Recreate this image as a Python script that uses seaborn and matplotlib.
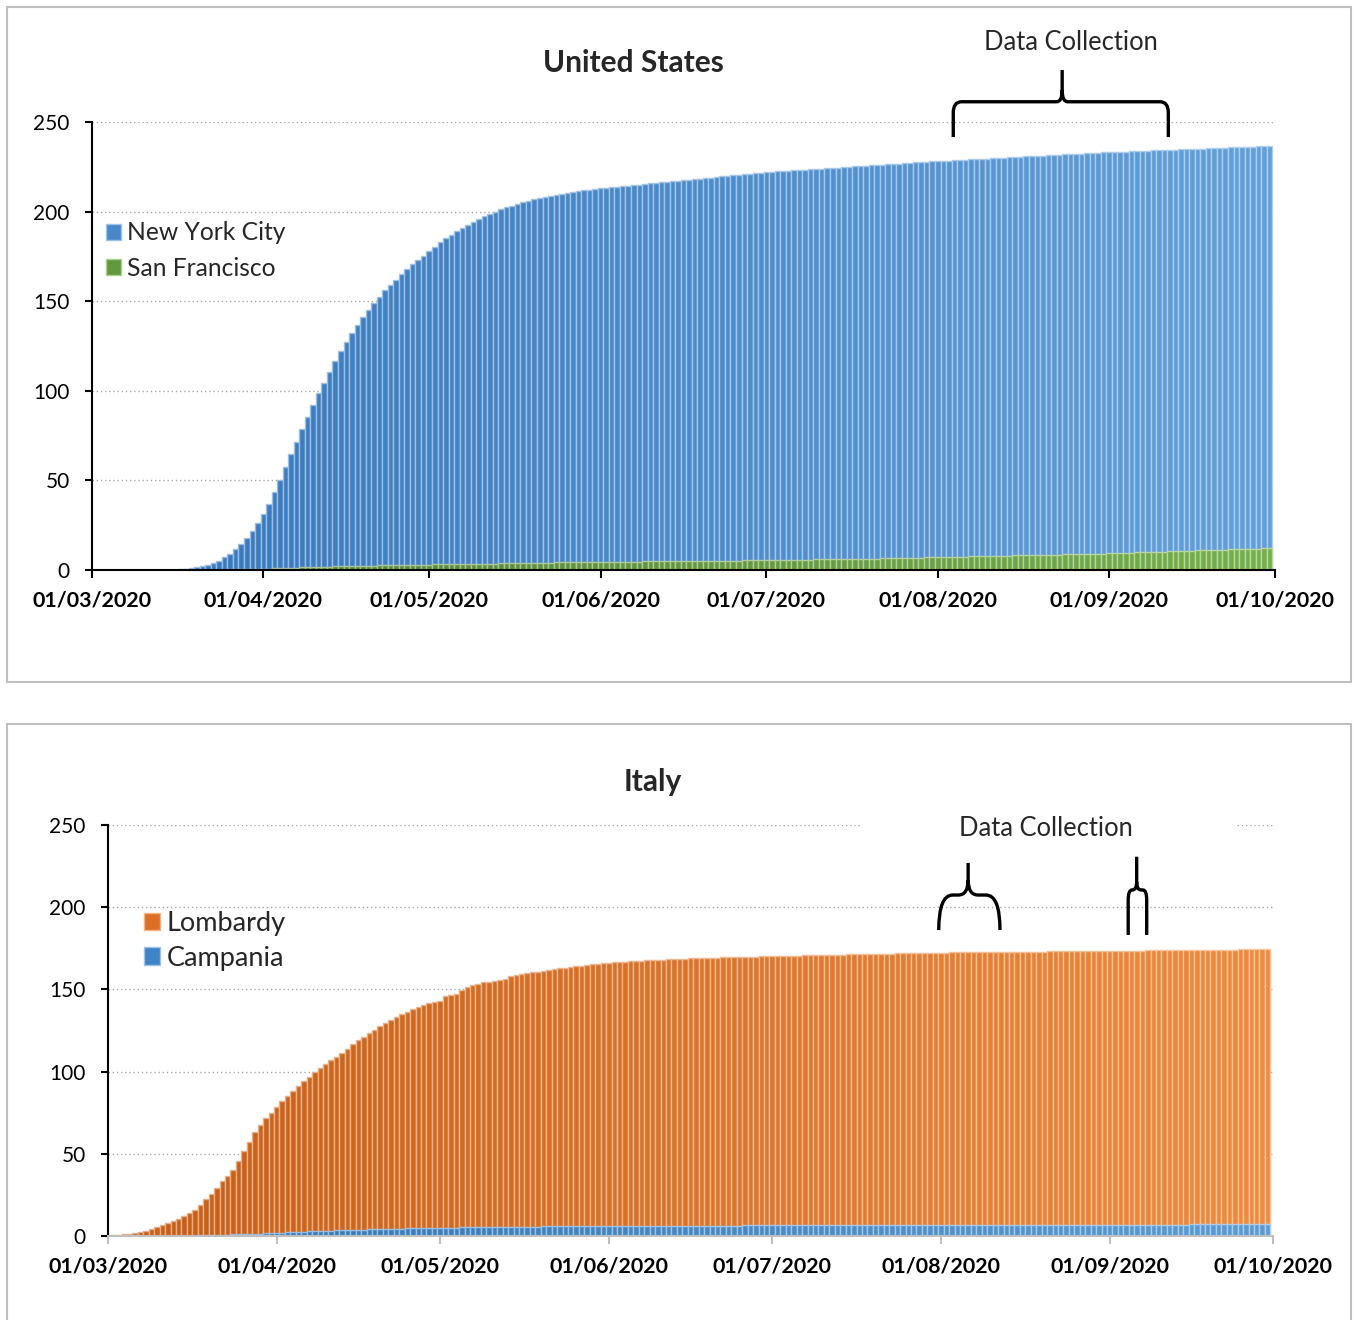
import matplotlib
matplotlib.use("Agg")
import matplotlib.pyplot as plt
import matplotlib.dates as mdates
from matplotlib.patches import Patch, Rectangle, PathPatch
from matplotlib.path import Path
from matplotlib.colors import to_rgb
import numpy as np
import pandas as pd
import seaborn as sns

# daily values, 01/03/2020 .. 30/09/2020, one list per month
dates = pd.date_range("2020-03-01", "2020-09-30", freq="D")

nyc = (
    [0] * 15 + [0.1, 0.3, 0.6, 1.0, 1.5, 2.2, 3.0, 4.0, 5.3, 7.0, 9.0, 11.5, 14.5, 18.0, 22.0, 26.5]
    + [31.5, 37, 43.5, 50.5, 57.5, 64.5, 71.5, 78.5, 85.5, 92, 98.5, 104.5, 110.5, 116.5, 122,
       127, 132, 136.5, 141, 145, 149, 152.5, 156, 159, 162, 165, 168, 170.5, 173, 175.5]
    + [178, 180.5, 183, 185, 187, 189, 191, 192.8, 194.4, 196, 197.4, 198.7, 200, 201.2, 202.3,
       203.3, 204.3, 205.2, 206, 206.8, 207.5, 208.2, 208.8, 209.4, 210, 210.5, 211, 211.5, 211.9,
       212.3, 212.7]
    + [213.0, 213.3, 213.6, 213.9, 214.2, 214.5, 214.8, 215.1, 215.4, 215.7, 216.0, 216.3, 216.6,
       216.9, 217.2, 217.5, 217.8, 218.1, 218.4, 218.7, 219.0, 219.3, 219.6, 219.9, 220.2, 220.5,
       220.8, 221.1, 221.4, 221.7]
    + [222.0, 222.2, 222.4, 222.6, 222.8, 223.0, 223.2, 223.4, 223.6, 223.8, 224.0, 224.2, 224.4,
       224.6, 224.8, 225.0, 225.2, 225.4, 225.6, 225.8, 226.0, 226.2, 226.4, 226.6, 226.8, 227.0,
       227.2, 227.4, 227.6, 227.8, 228.0]
    + [228.1, 228.3, 228.4, 228.6, 228.8, 228.9, 229.1, 229.3, 229.4, 229.6, 229.8, 229.9, 230.1,
       230.3, 230.4, 230.6, 230.8, 230.9, 231.1, 231.3, 231.4, 231.6, 231.8, 231.9, 232.1, 232.3,
       232.4, 232.6, 232.8, 232.9, 233.0]
    + [233.1, 233.2, 233.4, 233.5, 233.6, 233.7, 233.8, 234.0, 234.1, 234.2, 234.3, 234.5, 234.6,
       234.7, 234.8, 234.9, 235.1, 235.2, 235.3, 235.4, 235.6, 235.7, 235.8, 235.9, 236.0, 236.1,
       236.3, 236.4, 236.5, 236.6]
)

sf = (
    [0] * 21 + [0.1, 0.1, 0.2, 0.2, 0.3, 0.3, 0.4, 0.4, 0.5, 0.6]
    + [0.7, 0.8, 0.9, 1.0, 1.1, 1.2, 1.3, 1.4, 1.5, 1.6, 1.7, 1.8, 1.9, 2.0, 2.1, 2.2, 2.3, 2.3,
       2.4, 2.5, 2.5, 2.6, 2.6, 2.7, 2.7, 2.8, 2.8, 2.9, 2.9, 3.0]
    + [3.0, 3.1, 3.1, 3.2, 3.2, 3.3, 3.3, 3.4, 3.4, 3.5, 3.5, 3.6, 3.6, 3.7, 3.7, 3.8, 3.8, 3.9,
       3.9, 4.0, 4.0, 4.1, 4.1, 4.2, 4.2, 4.2, 4.3, 4.3, 4.4, 4.4, 4.5]
    + [4.5, 4.5, 4.6, 4.6, 4.6, 4.7, 4.7, 4.7, 4.8, 4.8, 4.8, 4.9, 4.9, 4.9, 5.0, 5.0, 5.0, 5.1,
       5.1, 5.1, 5.2, 5.2, 5.2, 5.3, 5.3, 5.3, 5.4, 5.4, 5.4, 5.5]
    + [5.5, 5.5, 5.6, 5.6, 5.6, 5.7, 5.7, 5.8, 5.8, 5.9, 5.9, 6.0, 6.0, 6.1, 6.1, 6.2, 6.2, 6.3,
       6.3, 6.4, 6.4, 6.5, 6.5, 6.6, 6.6, 6.7, 6.8, 6.8, 6.9, 7.0, 7.1]
    + [7.2, 7.2, 7.3, 7.4, 7.4, 7.5, 7.6, 7.6, 7.7, 7.8, 7.8, 7.9, 8.0, 8.0, 8.1, 8.2, 8.2, 8.3,
       8.4, 8.4, 8.5, 8.6, 8.6, 8.7, 8.8, 8.8, 8.9, 9.0, 9.0, 9.1, 9.2]
    + [9.3, 9.4, 9.5, 9.6, 9.7, 9.8, 9.9, 10.0, 10.1, 10.2, 10.3, 10.4, 10.5, 10.6, 10.7, 10.8,
       10.9, 11.0, 11.1, 11.2, 11.3, 11.4, 11.5, 11.6, 11.7, 11.8, 11.8, 11.9, 12.0, 12.1]
)

lombardy = (
    [0.3, 0.5, 0.8, 1.0, 1.3, 1.6, 2.2, 3.0, 4.0, 5.2, 6.5, 8.0, 9.0, 10.2, 12.0, 14.0, 16.0,
     19.0, 22.5, 25.5, 29.5, 33.5, 36.5, 40.0, 45.5, 51.5, 57.0, 63.0, 67.5, 71.5, 75.0]
    + [78.5, 82, 85, 88, 91, 94, 97, 99.5, 102, 104.5, 107, 109, 111.5, 114, 116.5, 119, 121,
       123.5, 125.5, 127.5, 129.5, 131.5, 133.5, 135, 136.5, 138, 139.5, 140.5, 141.5, 142.5]
    + [143, 146, 146.5, 147.5, 149.5, 151.5, 152.5, 153.5, 154.2, 154.8, 155.4, 156, 156.5, 158,
       158.8, 159.3, 159.8, 160.3, 160.8, 161.3, 161.8, 162.3, 162.8, 163.2, 163.6, 164, 164.4,
       164.8, 165.2, 165.6, 166]
    + [166.2, 166.4, 166.6, 166.8, 167.0, 167.2, 167.4, 167.6, 167.8, 168.0, 168.1, 168.3, 168.4,
       168.6, 168.7, 168.9, 169.0, 169.1, 169.2, 169.3, 169.4, 169.5, 169.6, 169.7, 169.8, 169.9,
       170.0, 170.0, 170.1, 170.2]
    + [170.3, 170.3, 170.4, 170.5, 170.6, 170.6, 170.7, 170.8, 170.9, 170.9, 171.0, 171.1, 171.1,
       171.2, 171.3, 171.3, 171.4, 171.5, 171.5, 171.6, 171.7, 171.7, 171.8, 171.9, 171.9, 172.0,
       172.1, 172.1, 172.2, 172.3, 172.3]
    + [172.4, 172.4, 172.5, 172.5, 172.5, 172.6, 172.6, 172.6, 172.7, 172.7, 172.7, 172.8, 172.8,
       172.8, 172.9, 172.9, 172.9, 173.0, 173.0, 173.0, 173.1, 173.1, 173.1, 173.2, 173.2, 173.2,
       173.3, 173.3, 173.3, 173.4, 173.4]
    + [173.4, 173.5, 173.5, 173.5, 173.6, 173.6, 173.6, 173.7, 173.7, 173.7, 173.8, 173.8, 173.8,
       173.9, 173.9, 173.9, 174.0, 174.0, 174.0, 174.1, 174.1, 174.1, 174.2, 174.2, 174.3, 174.3,
       174.4, 174.4, 174.5, 174.6]
)

campania = (
    [0] * 10 + [0.1, 0.1, 0.1, 0.2, 0.2, 0.3, 0.3, 0.4, 0.5, 0.6, 0.7, 0.8, 0.9, 1.0, 1.1, 1.2,
                1.3, 1.4, 1.5, 1.6, 1.7]
    + [1.9, 2.0, 2.2, 2.3, 2.5, 2.6, 2.8, 2.9, 3.0, 3.2, 3.3, 3.4, 3.5, 3.6, 3.7, 3.8, 3.9, 4.0,
       4.1, 4.2, 4.3, 4.4, 4.5, 4.5, 4.6, 4.7, 4.7, 4.8, 4.9, 4.9]
    + [5.0, 5.0, 5.1, 5.1, 5.2, 5.2, 5.3, 5.3, 5.4, 5.4, 5.5, 5.5, 5.5, 5.6, 5.6, 5.6, 5.7, 5.7,
       5.7, 5.8, 5.8, 5.8, 5.9, 5.9, 5.9, 6.0, 6.0, 6.0, 6.0, 6.1, 6.1]
    + [6.1, 6.1, 6.1, 6.1, 6.1, 6.2, 6.2, 6.2, 6.2, 6.2, 6.2, 6.2, 6.2, 6.2, 6.2, 6.3, 6.3, 6.3,
       6.3, 6.3, 6.3, 6.3, 6.3, 6.3, 6.3, 6.4, 6.4, 6.4, 6.4, 6.4]
    + [6.4, 6.4, 6.4, 6.4, 6.4, 6.4, 6.4, 6.4, 6.4, 6.4, 6.5, 6.5, 6.5, 6.5, 6.5, 6.5, 6.5, 6.5,
       6.5, 6.5, 6.6, 6.6, 6.6, 6.6, 6.6, 6.6, 6.6, 6.6, 6.6, 6.6, 6.6]
    + [6.6, 6.6, 6.6, 6.6, 6.6, 6.7, 6.7, 6.7, 6.7, 6.7, 6.7, 6.7, 6.7, 6.7, 6.7, 6.7, 6.7, 6.7,
       6.8, 6.8, 6.8, 6.8, 6.8, 6.8, 6.8, 6.8, 6.8, 6.8, 6.8, 6.8, 6.8]
    + [6.8, 6.8, 6.8, 6.8, 6.8, 6.9, 6.9, 6.9, 6.9, 6.9, 6.9, 6.9, 6.9, 6.9, 6.9, 7.0, 7.0, 7.0,
       7.0, 7.0, 7.1, 7.1, 7.1, 7.1, 7.1, 7.2, 7.2, 7.2, 7.3, 7.3]
)

for s in (nyc, sf, lombardy, campania):
    assert len(s) == len(dates), len(s)

sns.set_theme(style="white")
plt.rcParams["font.family"] = ["Lato", "DejaVu Sans"]

xnum = mdates.date2num(dates)
xmin = mdates.date2num(pd.Timestamp("2020-03-01"))
xmax = mdates.date2num(pd.Timestamp("2020-10-01"))


def gradient_bars(ax, values, c_left, c_right):
    n0 = len(ax.patches)
    sns.barplot(x=xnum, y=values, native_scale=True, width=1.0, errorbar=None, ax=ax,
                color=c_left, linewidth=1.0)
    a, b = np.array(to_rgb(c_left)), np.array(to_rgb(c_right))
    for p in ax.patches[n0:]:
        t = (p.get_x() + p.get_width() / 2 - xmin) / (xmax - xmin)
        fc = a + (b - a) * np.clip(t, 0, 1)
        p.set_facecolor(fc)
        p.set_edgecolor(fc + (1 - fc) * 0.5)
        if p.get_height() <= 0:
            p.set_linewidth(0)


def brace(ax, x0, x1, xc, yb, ym, yt, rx1, ry1, rx2, ry2):
    x0, x1, xc = xmin + x0, xmin + x1, xmin + xc
    M, L, C = Path.MOVETO, Path.LINETO, Path.CURVE3
    verts = [(x0, yb), (x0, ym - ry1), (x0, ym), (x0 + rx1, ym), (xc - rx2, ym), (xc, ym),
             (xc, ym + ry2), (xc, yt),
             (x1, yb), (x1, ym - ry1), (x1, ym), (x1 - rx1, ym), (xc + rx2, ym), (xc, ym),
             (xc, ym + ry2)]
    codes = [M, L, C, C, L, C, C, L, M, L, C, C, L, C, C]
    ax.add_patch(PathPatch(Path(verts, codes), fill=False, lw=2.4, color="black",
                           clip_on=False, zorder=5))


def style_axes(ax, xcolor):
    ax.set_xlim(xmin, xmax)
    ax.set_ylim(0, 250)
    ax.set_yticks([0, 50, 100, 150, 200, 250])
    ax.xaxis.set_major_locator(mdates.MonthLocator())
    ax.xaxis.set_major_formatter(mdates.DateFormatter("%d/%m/%Y"))
    ax.set_xlabel("")
    ax.set_ylabel("")
    for side in ("top", "right"):
        ax.spines[side].set_visible(False)
    ax.spines["left"].set_color("black")
    ax.spines["left"].set_linewidth(1.5)
    ax.spines["bottom"].set_color(xcolor)
    ax.spines["bottom"].set_linewidth(1.5)
    ax.tick_params(axis="y", left=True, length=5, width=1.5, color="black", pad=11,
                   labelsize=15, labelcolor="black")
    ax.tick_params(axis="x", bottom=True, length=6, width=1.5, color=xcolor, pad=9,
                   labelsize=15.4, labelcolor="black")
    for lab in ax.get_xticklabels():
        lab.set_fontweight("bold")
    for y in [50, 100, 150, 200, 250]:
        ax.axhline(y, color="#a6a6a6", lw=1, ls=(0, (1, 2)), zorder=0)
    ax.set_axisbelow(True)


fig = plt.figure(figsize=(13.54, 13.2), dpi=100)

# panel frames
fig.patches.append(Rectangle((7 / 1354, 1 - 682 / 1320), 1344 / 1354, 675 / 1320,
                             transform=fig.transFigure, fill=False, ec="#bfbfbf", lw=1.5))
fig.patches.append(Rectangle((7 / 1354, -0.01), 1344 / 1354, 1 - 724 / 1320 + 0.01,
                             transform=fig.transFigure, fill=False, ec="#bfbfbf", lw=1.5))

# United States
ax1 = fig.add_axes([92 / 1354, 1 - 570 / 1320, 1183 / 1354, 448 / 1320])
gradient_bars(ax1, nyc, "#3475bb", "#62a0da")
gradient_bars(ax1, sf, "#4f7d32", "#74b04a")
style_axes(ax1, "black")
ax1.legend(handles=[Patch(fc="#4a88c8", ec="#9cc2e6", label="New York City"),
                    Patch(fc="#62983e", ec="#a9d08e", label="San Francisco")],
           loc="upper left", bbox_to_anchor=(0.0035, 0.80), frameon=False, fontsize=17.7,
           handlelength=0.6, handleheight=0.6, handletextpad=0.25, labelspacing=0.5,
           borderaxespad=0)
brace(ax1, 155.8, 194.7, 175.5, 241.6, 261.3, 279.0, 1.5, 6.1, 1.0, 6.5)
fig.text(633 / 1354, 1 - 63 / 1320, "United States", ha="center", va="center",
         fontsize=21.5, fontweight="bold")
fig.text(1071 / 1354, 1 - 42 / 1320, "Data Collection", ha="center", va="center", fontsize=18.4)

# Italy
ax2 = fig.add_axes([108 / 1354, 1 - 1236 / 1320, 1165 / 1354, 411 / 1320])
gradient_bars(ax2, lombardy, "#c65c14", "#ef8b3d")
gradient_bars(ax2, campania, "#2f74b5", "#5b9bd5")
style_axes(ax2, "#bfbfbf")
ax2.legend(handles=[Patch(fc="#dc6f25", ec="#f4b183", label="Lombardy"),
                    Patch(fc="#3f84c6", ec="#9dc3e6", label="Campania")],
           loc="upper left", bbox_to_anchor=(0.0214, 0.817), frameon=False, fontsize=19.5,
           handlelength=0.6, handleheight=0.6, handletextpad=0.25, labelspacing=0.35,
           borderaxespad=0)
brace(ax2, 152.6, 163.85, 158.0, 186.1, 207.4, 226.9, 2.57, 21.3, 1.84, 9.1)
brace(ax2, 187.4, 190.8, 188.96, 183.1, 210.5, 230.7, 0.73, 6.1, 0.8, 4.9)
fig.text(653 / 1354, 1 - 782 / 1320, "Italy", ha="center", va="center",
         fontsize=21.5, fontweight="bold")
fig.patches.append(Rectangle((860 / 1354, 1 - 843 / 1320), 375 / 1354, 32 / 1320,
                             transform=fig.transFigure, fc="white", ec="none", zorder=3))
fig.text(1046 / 1354, 1 - 828 / 1320, "Data Collection", ha="center", va="center",
         fontsize=18.4, zorder=4)

fig.savefig("out.png", dpi=100)
